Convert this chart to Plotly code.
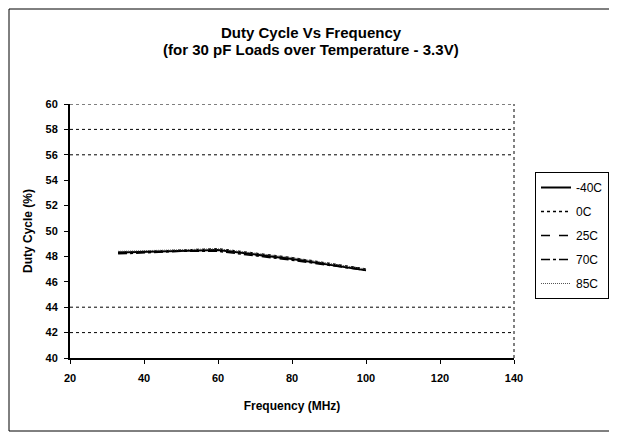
import plotly.graph_objects as go

freq = [33, 50, 60, 80, 100]
series_names = ["-40C", "0C", "25C", "70C", "85C"]
duty_m40 = [48.3, 48.4, 48.5, 47.8, 46.9]
duty_0 = [48.3, 48.5, 48.6, 47.9, 47.0]
duty_25 = [48.3, 48.4, 48.5, 47.8, 47.0]
duty_70 = [48.2, 48.4, 48.4, 47.7, 46.9]
duty_85 = [48.4, 48.5, 48.6, 47.9, 47.0]
y_ticks = [40, 42, 44, 46, 48, 50, 52, 54, 56, 58, 60]
x_ticks = [20, 40, 60, 80, 100, 120, 140]
grid_levels = [42, 44, 56, 58, 60]
title_lines = ["Duty Cycle Vs Frequency", "(for 30 pF Loads over Temperature - 3.3V)"]

FONT = "Liberation Sans, Arial, sans-serif"
OFF = 8  # page body margin offset
W, H = 617, 437
PL, PR, PT, PB = 70, 514, 104, 358  # plot area in window pixels


def px(wx):
    return (wx - PL) / (PR - PL)


def py(wy):
    return (PB - wy) / (PB - PT)


styles = [
    dict(color="black", width=2, dash="solid"),
    dict(color="black", width=1.5, dash="dot"),
    dict(color="black", width=1.5, dash="dash"),
    dict(color="black", width=1.5, dash="dashdot"),
    dict(color="#555555", width=1, dash="1px,1px"),
]

fig = go.Figure()
for name, ys, st in zip(series_names, [duty_m40, duty_0, duty_25, duty_70, duty_85], styles):
    fig.add_trace(go.Scatter(x=freq, y=ys, mode="lines", name=name, line=st, legendgroup=name))

for g in grid_levels:
    fig.add_shape(type="line", xref="paper", x0=0, x1=1, yref="y", y0=g, y1=g,
                  line=dict(color="black", width=1, dash="dot"), layer="below")
# right border of plot area (dotted)
fig.add_shape(type="line", xref="paper", x0=1, x1=1, yref="paper", y0=0, y1=1,
              line=dict(color="black", width=1, dash="dot"))
# outer chart border
fig.add_shape(type="rect", xref="paper", yref="paper",
              x0=px(9), x1=px(612), y0=py(431), y1=py(9),
              line=dict(color="black", width=1))

for txt, wy in zip(title_lines, [32, 50]):
    fig.add_annotation(text=f"<b>{txt}</b>", xref="paper", yref="paper",
                       x=px(311), y=py(wy), xanchor="center", yanchor="middle",
                       showarrow=False, font=dict(family=FONT, size=15, color="black"))

fig.update_layout(
    width=W, height=H,
    margin=dict(l=PL - OFF, r=W - (PR - OFF), t=PT - OFF, b=H - (PB - OFF), autoexpand=False),
    paper_bgcolor="white", plot_bgcolor="white",
    font=dict(family=FONT, color="black", size=11),
    xaxis=dict(
        range=[20, 140], tickvals=x_ticks, ticktext=[f"<b>{v}</b>" for v in x_ticks],
        showgrid=False, zeroline=False, showline=True, linecolor="black", linewidth=2,
        ticks="outside", ticklen=4, tickcolor="black", automargin=False,
        ticklabelstandoff=5,
        title=dict(text="<b>Frequency (MHz)</b>", font=dict(size=12), standoff=18),
        tickfont=dict(size=11),
    ),
    yaxis=dict(
        range=[40, 60], tickvals=y_ticks, ticktext=[f"<b>{v}</b>" for v in y_ticks],
        showgrid=False, zeroline=False, showline=True, linecolor="black", linewidth=2,
        ticks="outside", ticklen=4, tickcolor="black", automargin=False,
        ticklabelstandoff=4,
        title=dict(text="<b>Duty Cycle (%)</b>", font=dict(size=12), standoff=10),
        tickfont=dict(size=11),
    ),
    legend=dict(
        x=px(535), xanchor="left", y=py(172), yanchor="top",
        bordercolor="black", borderwidth=1, bgcolor="white",
        font=dict(family=FONT, size=12), itemwidth=30, tracegroupgap=5,
    ),
    showlegend=True,
)

fig.write_html("out.html")
